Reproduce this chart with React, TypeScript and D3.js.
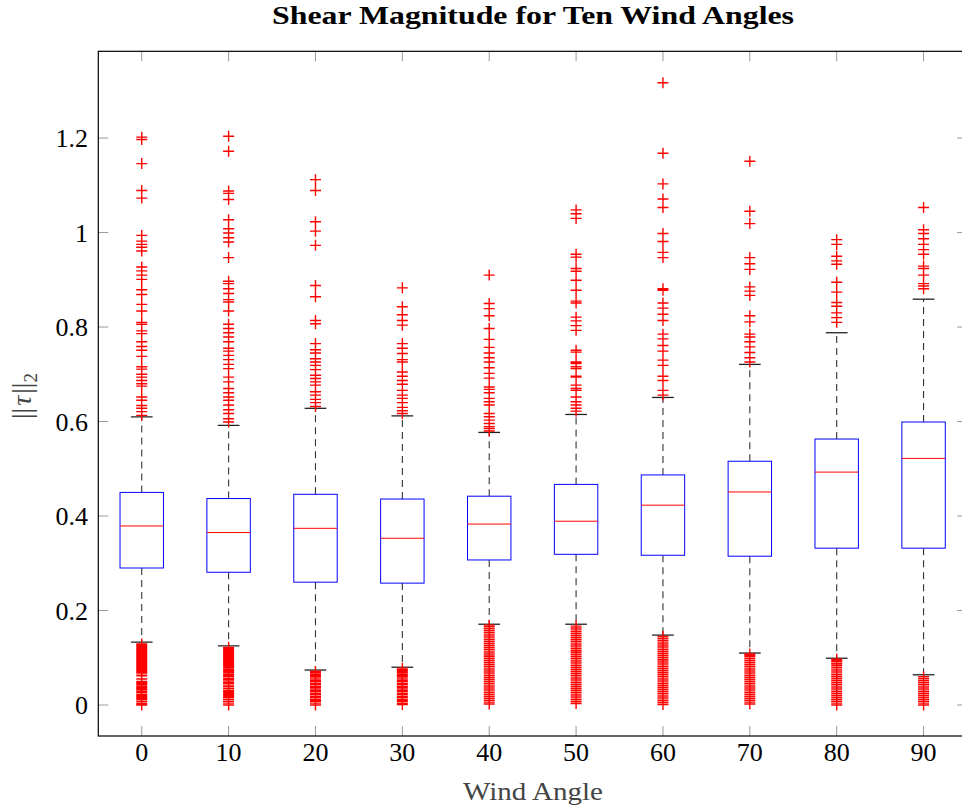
import React, { useEffect, useRef } from 'react';
import * as d3 from 'd3';

// wind angles (categories)
const angles = [0, 10, 20, 30, 40, 50, 60, 70, 80, 90];

// box statistics
const lowerWhisker = [0.133, 0.125, 0.074, 0.080, 0.171, 0.171, 0.148, 0.110, 0.099, 0.064];
const lowerQuartile = [0.290, 0.281, 0.260, 0.258, 0.307, 0.319, 0.317, 0.315, 0.332, 0.332];
const medians = [0.379, 0.365, 0.374, 0.353, 0.383, 0.389, 0.423, 0.451, 0.493, 0.522];
const upperQuartile = [0.450, 0.437, 0.446, 0.436, 0.442, 0.467, 0.487, 0.516, 0.563, 0.599];
const upperWhisker = [0.610, 0.592, 0.628, 0.612, 0.577, 0.615, 0.651, 0.721, 0.788, 0.859];

// outliers per angle
const outliers0 = [
  0, 0.003, 0.007, 0.011, 0.014, 0.017, 0.02, 0.023, 0.027, 0.03, 0.033, 0.036, 0.039, 0.042, 0.045, 0.047,
  0.05, 0.055, 0.062, 0.066, 0.069, 0.071, 0.074, 0.077, 0.08, 0.082, 0.084, 0.086, 0.089, 0.091, 0.093, 0.095,
  0.097, 0.099, 0.102, 0.104, 0.106, 0.108, 0.11, 0.113, 0.115, 0.117, 0.119, 0.121, 0.123, 0.125, 0.127, 0.129,
  0.613, 0.621, 0.628, 0.634, 0.645, 0.652, 0.675, 0.68, 0.687, 0.694, 0.7, 0.711, 0.716, 0.738, 0.751, 0.759,
  0.769, 0.786, 0.792, 0.806, 0.81, 0.834, 0.848, 0.869, 0.879, 0.901, 0.91, 0.919, 0.927, 0.961, 0.969,
  0.975, 0.982, 0.994, 1.073, 1.089, 1.146, 1.197, 1.202
];
const outliers10 = [
  0, 0.004, 0.008, 0.012, 0.016, 0.019, 0.022, 0.025, 0.028, 0.031, 0.035, 0.039, 0.042, 0.046, 0.049, 0.053,
  0.056, 0.06, 0.063, 0.066, 0.069, 0.072, 0.075, 0.078, 0.081, 0.084, 0.087, 0.09, 0.093, 0.096, 0.099, 0.102,
  0.105, 0.108, 0.111, 0.114, 0.117, 0.12, 0.122,
  0.599, 0.606, 0.617, 0.625, 0.635, 0.645, 0.652, 0.661, 0.67, 0.684, 0.694, 0.712, 0.721, 0.731, 0.74, 0.749,
  0.755, 0.769, 0.779, 0.788, 0.797, 0.806, 0.834, 0.853, 0.858, 0.871, 0.881, 0.892, 0.897, 0.947, 0.98,
  0.989, 0.999, 1.008, 1.027, 1.07, 1.083, 1.088, 1.172, 1.204
];
const outliers20 = [
  0, 0.004, 0.008, 0.011, 0.015, 0.018, 0.022, 0.025, 0.029, 0.032, 0.036, 0.039, 0.043, 0.046, 0.05, 0.053,
  0.057, 0.06, 0.063, 0.066, 0.069, 0.071,
  0.632, 0.64, 0.647, 0.656, 0.663, 0.677, 0.684, 0.691, 0.698, 0.71, 0.719, 0.726, 0.733, 0.745, 0.752, 0.765,
  0.807, 0.814, 0.864, 0.888, 0.973, 1.003, 1.023, 1.089, 1.112
];
const outliers30 = [
  0.001, 0.004, 0.008, 0.011, 0.015, 0.018, 0.022, 0.025, 0.029, 0.032, 0.036, 0.039, 0.043, 0.046, 0.05,
  0.053, 0.057, 0.06, 0.063, 0.066, 0.069, 0.072, 0.075, 0.078,
  0.617, 0.623, 0.63, 0.64, 0.649, 0.656, 0.666, 0.679, 0.687, 0.696, 0.705, 0.726, 0.731, 0.744, 0.755, 0.765,
  0.804, 0.814, 0.826, 0.843, 0.883
];
const outliers40 = [
  0.002, 0.006, 0.01, 0.014, 0.018, 0.022, 0.026, 0.03, 0.034, 0.038, 0.042, 0.046, 0.05, 0.054, 0.058, 0.062,
  0.066, 0.07, 0.074, 0.078, 0.082, 0.086, 0.09, 0.094, 0.098, 0.102, 0.106, 0.11, 0.114, 0.118, 0.122, 0.126,
  0.13, 0.134, 0.138, 0.142, 0.146, 0.15, 0.154, 0.158, 0.162, 0.166, 0.169,
  0.58, 0.585, 0.589, 0.596, 0.603, 0.61, 0.617, 0.635, 0.642, 0.649, 0.661, 0.668, 0.673, 0.692, 0.702, 0.714,
  0.726, 0.735, 0.745, 0.757, 0.774, 0.797, 0.824, 0.839, 0.85, 0.91
];
const outliers50 = [
  0.003, 0.007, 0.011, 0.015, 0.019, 0.023, 0.027, 0.031, 0.035, 0.039, 0.043, 0.047, 0.051, 0.055, 0.059,
  0.063, 0.067, 0.071, 0.075, 0.079, 0.083, 0.087, 0.091, 0.095, 0.099, 0.103, 0.107, 0.111, 0.115, 0.119,
  0.123, 0.127, 0.131, 0.135, 0.139, 0.143, 0.147, 0.151, 0.155, 0.159, 0.163, 0.167,
  0.622, 0.628, 0.635, 0.642, 0.652, 0.666, 0.67, 0.677, 0.694, 0.696, 0.712, 0.716, 0.723, 0.726, 0.747, 0.751,
  0.793, 0.803, 0.813, 0.821, 0.851, 0.855, 0.878, 0.899, 0.918, 0.924, 0.948, 0.954, 1.03, 1.04, 1.048
];
const outliers60 = [
  0.001, 0.005, 0.009, 0.013, 0.017, 0.021, 0.025, 0.029, 0.033, 0.037, 0.041, 0.045, 0.049, 0.053, 0.057,
  0.061, 0.065, 0.069, 0.073, 0.077, 0.081, 0.085, 0.089, 0.093, 0.097, 0.101, 0.105, 0.109, 0.113, 0.117,
  0.121, 0.125, 0.129, 0.133, 0.137, 0.141, 0.145,
  0.656, 0.666, 0.687, 0.696, 0.719, 0.73, 0.749, 0.761, 0.775, 0.785, 0.814, 0.827, 0.84, 0.851, 0.878, 0.881,
  0.947, 0.958, 0.981, 0.998, 1.053, 1.071, 1.103, 1.168, 1.317
];
const outliers70 = [
  0.002, 0.006, 0.01, 0.014, 0.018, 0.022, 0.026, 0.03, 0.034, 0.038, 0.042, 0.046, 0.05, 0.054, 0.058, 0.062,
  0.066, 0.07, 0.074, 0.078, 0.082, 0.086, 0.09, 0.094, 0.098, 0.102, 0.105, 0.108,
  0.726, 0.735, 0.746, 0.758, 0.769, 0.779, 0.785, 0.811, 0.824, 0.867, 0.876, 0.885, 0.922, 0.934, 0.947,
  1.019, 1.045, 1.151
];
const outliers80 = [
  0, 0.004, 0.008, 0.012, 0.016, 0.02, 0.024, 0.028, 0.032, 0.036, 0.04, 0.044, 0.048, 0.052, 0.056, 0.06,
  0.064, 0.068, 0.072, 0.076, 0.08, 0.084, 0.088, 0.092, 0.095, 0.097,
  0.81, 0.82, 0.83, 0.844, 0.852, 0.874, 0.895, 0.933, 0.94, 0.95, 0.975, 0.985
];
const outliers90 = [
  0, 0.004, 0.008, 0.012, 0.016, 0.02, 0.024, 0.028, 0.032, 0.036, 0.04, 0.044, 0.048, 0.052, 0.056, 0.06,
  0.881, 0.887, 0.892, 0.91, 0.924, 0.929, 0.954, 0.964, 0.975, 0.987, 0.998, 1.006, 1.053
];
const outliers = [outliers0, outliers10, outliers20, outliers30, outliers40, outliers50, outliers60, outliers70, outliers80, outliers90];

const yTicks = [0, 0.2, 0.4, 0.6, 0.8, 1, 1.2];

export default function App() {
  const svgRef = useRef(null);

  useEffect(() => {
    const W = 962;
    const H = 807;
    const left = 98.3, right = 967, top = 51.3, bottom = 736;

    const svg = d3.select(svgRef.current).attr('width', W).attr('height', H);
    svg.selectAll('*').remove();

    const x = d3.scaleLinear().domain([-5, 95]).range([left, right]);
    const y = d3.scaleLinear().domain([-0.0656, 1.3837]).range([bottom, top]);

    const font = '"Liberation Serif", "DejaVu Serif", serif';

    svg.append('defs').append('clipPath').attr('id', 'plotclip')
      .append('rect').attr('x', left).attr('y', top).attr('width', right - left).attr('height', bottom - top);

    // ticks (inside, both sides)
    const tickG = svg.append('g').attr('stroke', '#9a9a9a').attr('stroke-width', 1);
    angles.forEach(a => {
      tickG.append('line').attr('x1', x(a)).attr('x2', x(a)).attr('y1', bottom).attr('y2', bottom - 10);
      tickG.append('line').attr('x1', x(a)).attr('x2', x(a)).attr('y1', top).attr('y2', top + 10);
    });
    yTicks.forEach(t => {
      tickG.append('line').attr('x1', left).attr('x2', left + 10).attr('y1', y(t)).attr('y2', y(t));
      tickG.append('line').attr('x1', right).attr('x2', right - 10).attr('y1', y(t)).attr('y2', y(t));
    });

    const plot = svg.append('g').attr('clip-path', 'url(#plotclip)');
    const boxW = 5;
    const capW = 2.5;

    angles.forEach((a, i) => {
      const g = plot.append('g');
      // whiskers
      g.append('line').attr('x1', x(a)).attr('x2', x(a))
        .attr('y1', y(upperQuartile[i])).attr('y2', y(upperWhisker[i]))
        .attr('stroke', '#333').attr('stroke-width', 1.1).attr('stroke-dasharray', '7,5');
      g.append('line').attr('x1', x(a)).attr('x2', x(a))
        .attr('y1', y(lowerQuartile[i])).attr('y2', y(lowerWhisker[i]))
        .attr('stroke', '#333').attr('stroke-width', 1.1).attr('stroke-dasharray', '7,5');
      [upperWhisker[i], lowerWhisker[i]].forEach(v => {
        g.append('line').attr('x1', x(a - capW / 2)).attr('x2', x(a + capW / 2))
          .attr('y1', y(v)).attr('y2', y(v)).attr('stroke', '#222').attr('stroke-width', 1.3);
      });
      // box
      g.append('rect')
        .attr('x', x(a - boxW / 2)).attr('width', x(a + boxW / 2) - x(a - boxW / 2))
        .attr('y', y(upperQuartile[i])).attr('height', y(lowerQuartile[i]) - y(upperQuartile[i]))
        .attr('fill', 'white').attr('stroke', '#0000ff').attr('stroke-width', 1);
      g.append('line').attr('x1', x(a - boxW / 2)).attr('x2', x(a + boxW / 2))
        .attr('y1', y(medians[i])).attr('y2', y(medians[i]))
        .attr('stroke', '#ff0000').attr('stroke-width', 1);
      // outliers as "+"
      const s = 5.5;
      const d = outliers[i].map(v => {
        const cx = x(a), cy = y(v);
        return `M${cx - s},${cy}H${cx + s}M${cx},${cy - s}V${cy + s}`;
      }).join('');
      g.append('path').attr('d', d).attr('fill', 'none')
        .attr('stroke', '#ff0000').attr('stroke-width', 1.4);
    });

    // frame
    svg.append('rect').attr('x', left).attr('y', top).attr('width', right - left).attr('height', bottom - top)
      .attr('fill', 'none').attr('stroke', 'black').attr('stroke-width', 1.2);

    // tick labels
    angles.forEach(a => {
      svg.append('text').attr('x', x(a)).attr('y', 761).attr('text-anchor', 'middle')
        .attr('font-family', font).attr('font-size', 26).attr('fill', 'black').text(a);
    });
    yTicks.forEach(t => {
      svg.append('text').attr('x', 88).attr('y', y(t) + 9).attr('text-anchor', 'end')
        .attr('font-family', font).attr('font-size', 26).attr('fill', 'black').text(d3.format('~g')(t));
    });

    // title
    svg.append('text').attr('x', 533).attr('y', 24).attr('text-anchor', 'middle')
      .attr('font-family', font).attr('font-weight', 'bold').attr('font-size', 26)
      .attr('textLength', 522).attr('lengthAdjust', 'spacingAndGlyphs')
      .text('Shear Magnitude for Ten Wind Angles');

    // x label
    svg.append('text').attr('x', 533).attr('y', 800).attr('text-anchor', 'middle')
      .attr('font-family', font).attr('font-size', 26).attr('fill', '#444')
      .attr('textLength', 140).attr('lengthAdjust', 'spacingAndGlyphs')
      .text('Wind Angle');

    // y label
    const yl = svg.append('text').attr('transform', 'translate(31,396) rotate(-90)')
      .attr('text-anchor', 'middle').attr('font-family', font).attr('font-size', 28).attr('fill', '#444');
    yl.append('tspan').text('||');
    yl.append('tspan').attr('font-style', 'italic').attr('dx', 2).text('τ');
    yl.append('tspan').attr('dx', 2).text('||');
    yl.append('tspan').attr('font-size', 19).attr('dy', 6).text('2');
  }, []);

  return (
    <div style={{ position: 'absolute', left: 0, top: 0 }}>
      <svg ref={svgRef} style={{ display: 'block' }} />
    </div>
  );
}
